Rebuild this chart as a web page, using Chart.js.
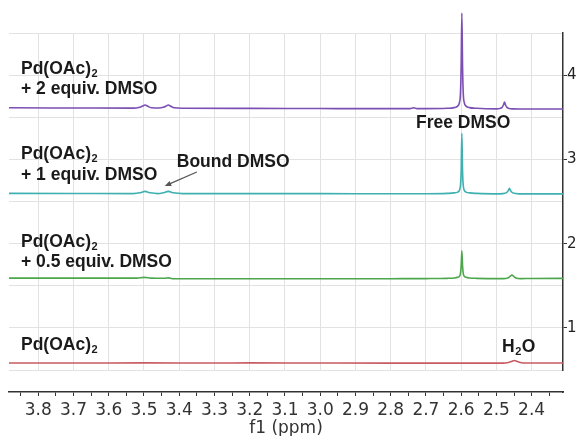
<!DOCTYPE html>
<html>
<head>
<meta charset="utf-8">
<script src="https://cdn.jsdelivr.net/npm/chart.js@4.4.0/dist/chart.umd.min.js"></script>
<style>
  body { margin: 0; background: #fff; }
  #wrap { width: 578px; height: 436px; position: relative; }
</style>
</head>
<body>
<div id="wrap"><canvas id="nmrChart"></canvas></div>
<script>
// chemical shift (ppm) / intensity pairs per trace
const purplePpm = [3.883, 3.70, 3.53, 3.515, 3.505, 3.497, 3.489, 3.478, 3.458, 3.445, 3.437, 3.431, 3.424, 3.414, 3.39, 3.2, 3.0, 2.80, 2.745, 2.735, 2.725, 2.70,
  2.64, 2.62, 2.61, 2.605, 2.602, 2.600, 2.598, 2.596, 2.594, 2.591, 2.586, 2.576, 2.556,
  2.50, 2.49, 2.484, 2.480, 2.477, 2.474, 2.470, 2.464, 2.455, 2.40, 2.311];
const purpleInt = [3.612, 3.610, 3.608, 3.615, 3.630, 3.645, 3.630, 3.612, 3.610, 3.618, 3.632, 3.645, 3.630, 3.612, 3.607, 3.605, 3.603, 3.602, 3.602, 3.612, 3.602, 3.602,
  3.606, 3.614, 3.632, 3.672, 3.782, 4.10, 4.737, 4.10, 3.782, 3.672, 3.632, 3.614, 3.606,
  3.600, 3.605, 3.617, 3.645, 3.680, 3.645, 3.617, 3.605, 3.600, 3.598, 3.598];

const tealPpm = [3.883, 3.70, 3.53, 3.512, 3.497, 3.482, 3.46, 3.446, 3.431, 3.416, 3.39, 3.2, 3.0, 2.80, 2.70,
  2.64, 2.62, 2.61, 2.605, 2.602, 2.600, 2.598, 2.596, 2.594, 2.591, 2.586, 2.576, 2.556,
  2.49, 2.476, 2.470, 2.466, 2.463, 2.460, 2.456, 2.450, 2.436, 2.40, 2.311];
const tealInt = [2.596, 2.595, 2.594, 2.603, 2.620, 2.603, 2.594, 2.603, 2.620, 2.603, 2.594, 2.593, 2.593, 2.592, 2.592,
  2.596, 2.602, 2.612, 2.632, 2.690, 2.85, 3.31, 2.85, 2.690, 2.632, 2.612, 2.602, 2.596,
  2.591, 2.597, 2.610, 2.632, 2.658, 2.632, 2.610, 2.597, 2.591, 2.590, 2.590];

const greenPpm = [3.883, 3.70, 3.52, 3.50, 3.48, 3.44, 3.43, 3.42, 3.2, 3.0, 2.80, 2.70,
  2.64, 2.62, 2.61, 2.605, 2.602, 2.600, 2.598, 2.596, 2.594, 2.591, 2.586, 2.576, 2.556,
  2.48, 2.468, 2.462, 2.456, 2.450, 2.444, 2.432, 2.40, 2.311];
const greenInt = [1.590, 1.590, 1.590, 1.600, 1.591, 1.589, 1.594, 1.584, 1.583, 1.583, 1.584, 1.585,
  1.588, 1.592, 1.600, 1.612, 1.645, 1.735, 1.916, 1.735, 1.645, 1.612, 1.600, 1.592, 1.588,
  1.585, 1.592, 1.608, 1.626, 1.608, 1.592, 1.585, 1.587, 1.588];

const redPpm = [3.883, 3.70, 3.50, 3.30, 3.20, 3.0, 2.80, 2.60, 2.48, 2.466, 2.456, 2.449, 2.442, 2.432, 2.418, 2.311];
const redInt = [0.584, 0.583, 0.585, 0.583, 0.585, 0.583, 0.582, 0.582, 0.582, 0.590, 0.603, 0.612, 0.603, 0.590, 0.583, 0.584];

const xTicks = [3.8, 3.7, 3.6, 3.5, 3.4, 3.3, 3.2, 3.1, 3.0, 2.9, 2.8, 2.7, 2.6, 2.5, 2.4];
const yTicks = [1, 2, 3, 4];

const sampleNames = [
  ['Pd(OAc)₂', '+ 2 equiv. DMSO'],
  ['Pd(OAc)₂', '+ 1 equiv. DMSO'],
  ['Pd(OAc)₂', '+ 0.5 equiv. DMSO'],
  ['Pd(OAc)₂']
];
const nameTop = [4.019, 3.004, 1.964, 0.737];   // baseline of first text line, in y units
const peakNotes = ['Bound DMSO', 'Free DMSO', 'H₂O'];

function toPoints(ppm, ints) {
  return ppm.map((p, i) => ({ x: p, y: ints[i] }));
}

function isStep(v, step) {
  return Math.abs(v / step - Math.round(v / step)) < 1e-6;
}

// draws text, turning '₂' into a smaller lowered 2
function drawSub(ctx, text, x, y) {
  const parts = text.split('₂');
  let cx = x;
  parts.forEach((part, i) => {
    ctx.font = 'bold 17.5px "Liberation Sans", Arial, sans-serif';
    ctx.fillText(part, cx, y);
    cx += ctx.measureText(part).width;
    if (i < parts.length - 1) {
      ctx.font = 'bold 11px "Liberation Sans", Arial, sans-serif';
      ctx.fillText('2', cx + 0.5, y + 3);
      cx += ctx.measureText('2').width + 1;
    }
  });
}

// blank band between the lowest grid line and the detached x axis
const axisGap = {
  id: 'axisGap',
  beforeDatasetsDraw(chart) {
    const { ctx, chartArea, scales: { y } } = chart;
    const top = y.getPixelForValue(0.5) + 1;
    ctx.save();
    ctx.fillStyle = '#fff';
    ctx.fillRect(chartArea.left - 1, top, chartArea.right - chartArea.left + 3, chartArea.bottom - 1 - top);
    ctx.restore();
  }
};

const labelsPlugin = {
  id: 'labelsPlugin',
  afterDatasetsDraw(chart) {
    const { ctx, scales: { x, y } } = chart;
    ctx.save();
    ctx.fillStyle = '#1a1a1a';
    ctx.textAlign = 'left';
    ctx.textBaseline = 'alphabetic';
    const left = x.getPixelForValue(3.849);
    sampleNames.forEach((lines, i) => {
      const y0 = y.getPixelForValue(nameTop[i]);
      lines.forEach((line, j) => drawSub(ctx, line, left, y0 + j * 20.5));
    });
    drawSub(ctx, peakNotes[0], x.getPixelForValue(3.407), y.getPixelForValue(2.909));
    drawSub(ctx, peakNotes[1], x.getPixelForValue(2.728), y.getPixelForValue(3.372));
    drawSub(ctx, peakNotes[2], x.getPixelForValue(2.484), y.getPixelForValue(0.717));

    // arrow to the bound DMSO signal
    const x1 = x.getPixelForValue(3.35), y1 = y.getPixelForValue(2.85);
    const x2 = x.getPixelForValue(3.441), y2 = y.getPixelForValue(2.684);
    const ang = Math.atan2(y2 - y1, x2 - x1);
    ctx.strokeStyle = '#555';
    ctx.fillStyle = '#555';
    ctx.lineWidth = 1.2;
    ctx.beginPath();
    ctx.moveTo(x1, y1);
    ctx.lineTo(x2 - 4 * Math.cos(ang), y2 - 4 * Math.sin(ang));
    ctx.stroke();
    ctx.beginPath();
    ctx.moveTo(x2, y2);
    ctx.lineTo(x2 - 7 * Math.cos(ang - 0.4), y2 - 7 * Math.sin(ang - 0.4));
    ctx.lineTo(x2 - 7 * Math.cos(ang + 0.4), y2 - 7 * Math.sin(ang + 0.4));
    ctx.closePath();
    ctx.fill();
    ctx.restore();
  }
};

function trace(data, color) {
  return {
    data: data,
    borderColor: color,
    borderWidth: 1.6,
    pointRadius: 0,
    fill: false,
    cubicInterpolationMode: 'monotone',
    clip: false
  };
}

const ctx = document.getElementById('nmrChart').getContext('2d');
const nmrChart = new Chart(ctx, {
  type: 'line',
  data: {
    datasets: [
      trace(toPoints(purplePpm, purpleInt), '#7b4fb3'),
      trace(toPoints(tealPpm, tealInt), '#3fb0b0'),
      trace(toPoints(greenPpm, greenInt), '#4ca64c'),
      trace(toPoints(redPpm, redInt), '#c85a62')
    ]
  },
  options: {
    responsive: true,
    maintainAspectRatio: false,
    animation: false,
    layout: { padding: { left: 9, top: 33, right: 0, bottom: 0 } },
    plugins: {
      legend: { display: false },
      tooltip: { enabled: false }
    },
    scales: {
      x: {
        type: 'linear',
        reverse: true,
        min: 2.311,
        max: 3.883,
        afterBuildTicks: (scale) => {
          const t = [];
          for (let k = 47; k <= 77; k++) t.push({ value: k / 20 });
          scale.ticks = t;
        },
        afterFit: (scale) => { scale.height = 44; },
        grid: {
          color: (c) => (c.tick && isStep(c.tick.value, 0.1)) ? '#e2e2e2' : 'rgba(0,0,0,0)',
          tickColor: '#333',
          tickLength: 4,
          lineWidth: 1
        },
        border: { color: '#333', width: 1.5 },
        ticks: {
          padding: 4,
          maxRotation: 0,
          autoSkip: false,
          color: '#333',
          font: { family: '"DejaVu Sans", sans-serif', size: 17 },
          callback: (v) => {
            const hit = xTicks.find(t => Math.abs(t - v) < 1e-6);
            return hit === undefined ? '' : hit.toFixed(1);
          }
        },
        title: {
          display: true,
          text: 'f1 (ppm)',
          color: '#333',
          font: { family: '"DejaVu Sans", sans-serif', size: 17 },
          padding: { top: 0, bottom: -3 }
        }
      },
      y: {
        position: 'right',
        min: 0.239,
        max: 4.5,
        afterBuildTicks: (scale) => {
          const t = [];
          for (let k = 1; k <= 9; k++) t.push({ value: k / 2 });
          scale.ticks = t;
        },
        afterFit: (scale) => { scale.width = 15; },
        grid: {
          color: '#e2e2e2',
          tickColor: (c) => (c.tick && isStep(c.tick.value, 1)) ? '#333' : 'rgba(0,0,0,0)',
          tickLength: 4
        },
        border: { color: '#333', width: 1.5 },
        ticks: {
          padding: 0,
          color: '#222',
          font: { family: '"DejaVu Sans", sans-serif', size: 15 },
          callback: (v) => yTicks.includes(v) ? String(v) : ''
        }
      }
    }
  },
  plugins: [axisGap, labelsPlugin]
});
</script>
</body>
</html>
